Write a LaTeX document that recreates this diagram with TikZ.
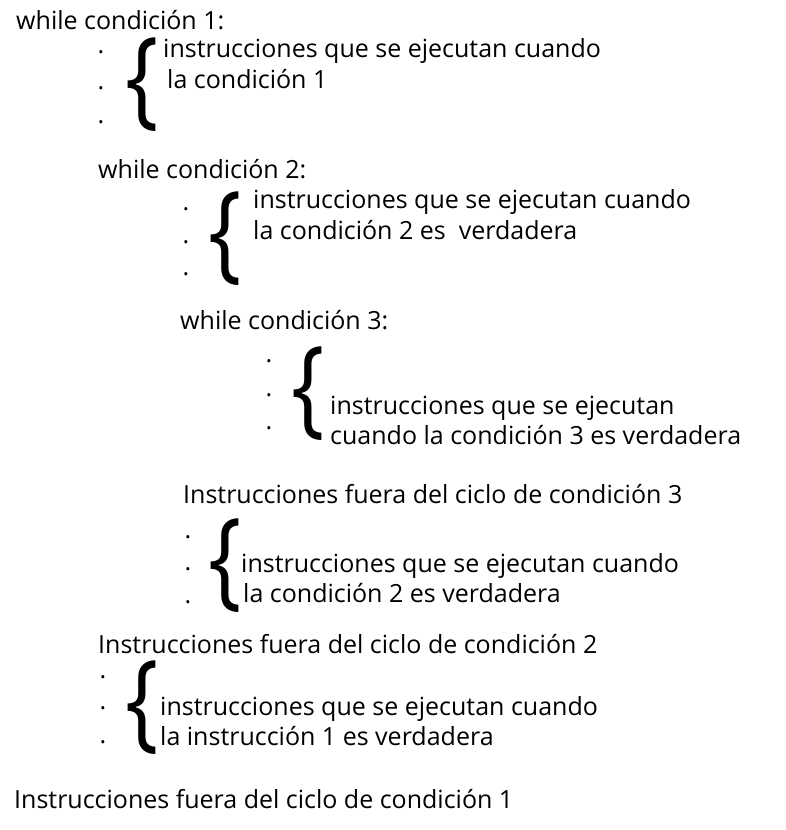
\documentclass[tikz,border=0pt]{standalone}
\usepackage{fontspec}
\setmainfont{Open Sans}
\usetikzlibrary{positioning}

% big stretched brace
\newcommand{\bloqueLlave}{\scalebox{4.1}[5.0]{\{}}

\begin{document}
\begin{tikzpicture}[x=1pt, y=-1pt]
  % --- Unified styles ---
    \tikzset{
      linea/.style  = {anchor=base west, inner sep=0pt, font=\fontsize{25}{30}\selectfont},
      punto/.style  = {anchor=base, inner sep=0pt, font=\fontsize{25}{30}\selectfont},
      llave/.style  = {inner sep=0pt, font=\fontsize{21.5}{26}\selectfont}
    }
    \useasboundingbox (0,0) rectangle (786,830);

    % --- Level 1 ---
    \node[linea] (w1) at (16,29) {while condición 1:};
    \node[punto] (p1a) at (101,53) {.};
    \node[punto] (p1b) at (101,89) {.};
    \node[punto] (p1c) at (101,123) {.};
    \node[llave] (ll1) at (142,85) {\bloqueLlave};
    \node[linea] (i1a) at (163,57) {instrucciones que se ejecutan cuando};
    \node[linea] (i1b) at (167,88) {la condición 1};

    % --- Level 2 ---
    \node[linea] (w2) at (98,178) {while condición 2:};
    \node[punto] (p2a) at (186,210) {.};
    \node[punto] (p2b) at (186,243) {.};
    \node[punto] (p2c) at (186,275) {.};
    \node[llave] (ll2) at (225,239) {\bloqueLlave};
    \node[linea] (i2a) at (253,208) {instrucciones que se ejecutan cuando};
    \node[linea] (i2b) at (253,239) {la condición 2 es\ \ verdadera};

    % --- Level 3 ---
    \node[linea] (w3) at (180,329) {while condición 3:};
    \node[punto] (p3a) at (269,362) {.};
    \node[punto] (p3b) at (269,396) {.};
    \node[punto] (p3c) at (269,429) {.};
    \node[llave] (ll3) at (308,394) {\bloqueLlave};
    \node[linea] (i3a) at (330,414) {instrucciones que se ejecutan};
    \node[linea] (i3b) at (330,444) {cuando la condición 3 es verdadera};

    % --- Closing levels ---
    \node[linea] (f3) at (183,503) {Instrucciones fuera del ciclo de condición 3};
    \node[punto] (p4a) at (188,538) {.};
    \node[punto] (p4b) at (188,570) {.};
    \node[punto] (p4c) at (188,603) {.};
    \node[llave] (ll4) at (225,566) {\bloqueLlave};
    \node[linea] (i4a) at (241,572) {instrucciones que se ejecutan cuando};
    \node[linea] (i4b) at (243,602) {la condición 2 es verdadera};

    \node[linea] (f2) at (98,653) {Instrucciones fuera del ciclo de condición 2};
    \node[punto] (p5a) at (103,678) {.};
    \node[punto] (p5b) at (103,709) {.};
    \node[punto] (p5c) at (103,743) {.};
    \node[llave] (ll5) at (142,708) {\bloqueLlave};
    \node[linea] (i5a) at (160,715) {instrucciones que se ejecutan cuando};
    \node[linea] (i5b) at (160,745) {la instrucción 1 es verdadera};

    \node[linea] (f1) at (14,808) {Instrucciones fuera del ciclo de condición 1};

\end{tikzpicture}
\end{document}
